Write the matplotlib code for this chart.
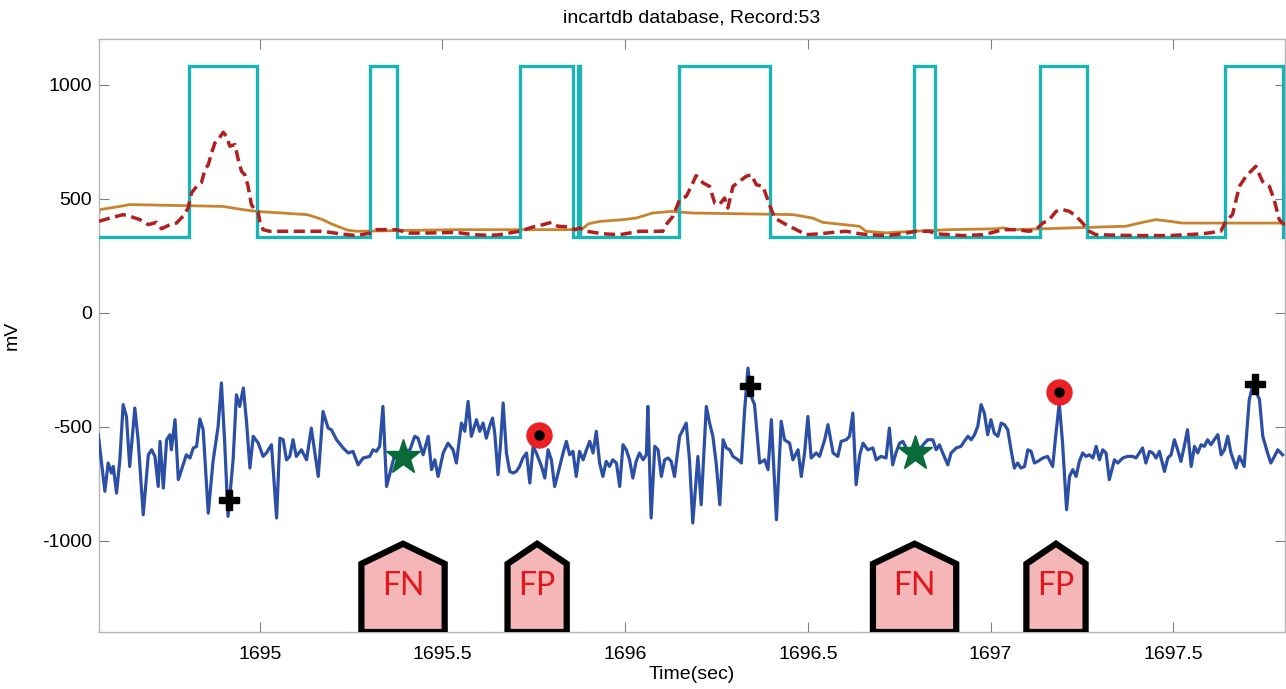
import matplotlib
matplotlib.use("Agg")
import matplotlib.pyplot as plt
from matplotlib.patches import Polygon
import numpy as np

plt.rcParams['font.family'] = ['Liberation Sans', 'DejaVu Sans']
plt.rcParams['axes.unicode_minus'] = False

# ---------------- data ----------------
# detector square wave (cyan): transition times, starting low
cyan_low, cyan_high = 330, 1080
cyan_edges = [1694.806, 1694.991, 1695.301, 1695.375, 1695.711, 1695.857,
              1695.870, 1695.876, 1696.146, 1696.395, 1696.790, 1696.848,
              1697.135, 1697.263, 1697.641, 1697.800]

# threshold (orange)
thr_t = [1694.560, 1694.562, 1694.617, 1694.644, 1694.899, 1694.953, 1694.992,
         1695.129, 1695.150, 1695.172, 1695.195, 1695.219, 1695.240, 1695.265,
         1695.529, 1695.880, 1695.900, 1695.930, 1695.994, 1696.030, 1696.075,
         1696.125, 1696.185, 1696.459, 1696.485, 1696.513, 1696.541, 1696.641,
         1696.659, 1696.714, 1696.787, 1696.887, 1697.015, 1697.033, 1697.060,
         1697.370, 1697.416, 1697.452, 1697.489, 1697.525, 1697.810]
thr_v = [437, 452, 466, 474, 466, 452, 444,
         430, 420, 408, 390, 375, 362, 357,
         364, 364, 390, 400, 408, 415, 437,
         444, 437, 430, 423, 415, 396, 379,
         357, 350, 357, 364, 368, 372, 364,
         379, 396, 408, 401, 393, 393]

# energy envelope (red dashed)
env_t = [1694.560, 1694.590, 1694.626, 1694.644, 1694.672, 1694.695, 1694.717,
         1694.731, 1694.754, 1694.772, 1694.790, 1694.804, 1694.813, 1694.827,
         1694.840, 1694.850, 1694.859, 1694.868, 1694.877, 1694.886, 1694.900,
         1694.909, 1694.918, 1694.932, 1694.941, 1694.950, 1694.959, 1694.968,
         1694.977, 1694.986, 1694.995, 1695.000, 1695.009, 1695.027, 1695.082,
         1695.173, 1695.219, 1695.264, 1695.301, 1695.319, 1695.374, 1695.410,
         1695.447, 1695.538, 1695.584, 1695.629, 1695.656, 1695.711, 1695.748,
         1695.775, 1695.798, 1695.816, 1695.848, 1695.862, 1695.875, 1695.894,
         1695.939, 1695.985, 1696.039, 1696.103, 1696.112, 1696.131, 1696.149,
         1696.167, 1696.181, 1696.194, 1696.213, 1696.231, 1696.245, 1696.258,
         1696.272, 1696.281, 1696.295, 1696.313, 1696.331, 1696.345, 1696.359,
         1696.377, 1696.395, 1696.409, 1696.441, 1696.477, 1696.495, 1696.532,
         1696.568, 1696.605, 1696.641, 1696.668, 1696.714, 1696.760, 1696.796,
         1696.833, 1696.851, 1696.887, 1696.924, 1696.978, 1697.006, 1697.033,
         1697.070, 1697.106, 1697.124, 1697.143, 1697.161, 1697.179, 1697.197,
         1697.216, 1697.234, 1697.252, 1697.270, 1697.288, 1697.398, 1697.489,
         1697.580, 1697.630, 1697.644, 1697.662, 1697.681, 1697.699, 1697.726,
         1697.744, 1697.763, 1697.776, 1697.790, 1697.799, 1697.810]
env_v = [401, 415, 430, 423, 408, 386, 396,
         368, 386, 393, 423, 459, 525, 554,
         569, 627, 649, 700, 744, 759, 791,
         773, 730, 737, 671, 620, 605, 554,
         474, 452, 444, 401, 364, 357, 357,
         357, 346, 338, 349, 364, 364, 349,
         349, 352, 342, 339, 342, 357, 376,
         386, 396, 379, 376, 364, 371, 357,
         346, 342, 357, 357, 386, 423, 496,
         510, 554, 601, 569, 554, 481, 474,
         503, 459, 554, 576, 598, 605, 561,
         554, 474, 415, 386, 357, 342, 346,
         352, 357, 346, 342, 338, 346, 357,
         357, 346, 342, 338, 342, 352, 364,
         364, 357, 364, 393, 408, 444, 452,
         444, 423, 393, 357, 342, 338, 338,
         346, 357, 401, 430, 554, 598, 642,
         576, 554, 496, 408, 393, 385]

# ECG signal (blue)
ecg_t = [1694.558, 1694.576, 1694.585, 1694.594, 1694.599, 1694.608, 1694.617,
         1694.626, 1694.635, 1694.644, 1694.658, 1694.667, 1694.681, 1694.695,
         1694.704, 1694.713, 1694.722, 1694.727, 1694.736, 1694.745, 1694.754,
         1694.758, 1694.768, 1694.777, 1694.786, 1694.799, 1694.809, 1694.818,
         1694.827, 1694.836, 1694.845, 1694.859, 1694.872, 1694.886, 1694.895,
         1694.904, 1694.913, 1694.927, 1694.936, 1694.945, 1694.955, 1694.964,
         1694.973, 1694.982, 1694.996, 1695.009, 1695.018, 1695.032, 1695.046,
         1695.055, 1695.064, 1695.073, 1695.082, 1695.091, 1695.100, 1695.114,
         1695.128, 1695.141, 1695.160, 1695.173, 1695.187, 1695.196, 1695.210,
         1695.228, 1695.242, 1695.255, 1695.269, 1695.283, 1695.301, 1695.310,
         1695.319, 1695.328, 1695.337, 1695.347, 1695.360, 1695.369, 1695.383,
         1695.397, 1695.411, 1695.424, 1695.433, 1695.447, 1695.461, 1695.470,
         1695.479, 1695.488, 1695.502, 1695.515, 1695.529, 1695.538, 1695.552,
         1695.561, 1695.570, 1695.579, 1695.593, 1695.602, 1695.611, 1695.620,
         1695.629, 1695.637, 1695.643, 1695.652, 1695.659, 1695.666, 1695.675,
         1695.684, 1695.693, 1695.702, 1695.711, 1695.720, 1695.730, 1695.739,
         1695.748, 1695.757, 1695.771, 1695.780, 1695.789, 1695.798, 1695.807,
         1695.821, 1695.830, 1695.839, 1695.848, 1695.857, 1695.866, 1695.875,
         1695.885, 1695.894, 1695.903, 1695.912, 1695.921, 1695.930, 1695.939,
         1695.948, 1695.957, 1695.966, 1695.976, 1695.985, 1695.994, 1696.003,
         1696.012, 1696.021, 1696.030, 1696.039, 1696.049, 1696.058, 1696.062,
         1696.071, 1696.081, 1696.090, 1696.099, 1696.108, 1696.117, 1696.126,
         1696.135, 1696.149, 1696.158, 1696.167, 1696.176, 1696.185, 1696.199,
         1696.208, 1696.222, 1696.231, 1696.240, 1696.249, 1696.259, 1696.268,
         1696.277, 1696.286, 1696.295, 1696.309, 1696.318, 1696.327, 1696.336,
         1696.345, 1696.354, 1696.368, 1696.382, 1696.391, 1696.400, 1696.414,
         1696.427, 1696.436, 1696.450, 1696.459, 1696.473, 1696.482, 1696.491,
         1696.500, 1696.509, 1696.523, 1696.532, 1696.546, 1696.555, 1696.569,
         1696.582, 1696.591, 1696.605, 1696.614, 1696.623, 1696.632, 1696.642,
         1696.651, 1696.664, 1696.678, 1696.687, 1696.700, 1696.714, 1696.723,
         1696.732, 1696.741, 1696.751, 1696.760, 1696.769, 1696.778, 1696.792,
         1696.805, 1696.819, 1696.828, 1696.842, 1696.851, 1696.860, 1696.869,
         1696.883, 1696.892, 1696.906, 1696.919, 1696.928, 1696.938, 1696.947,
         1696.956, 1696.965, 1696.974, 1696.983, 1696.992, 1697.001, 1697.010,
         1697.020, 1697.029, 1697.038, 1697.047, 1697.056, 1697.065, 1697.074,
         1697.083, 1697.093, 1697.102, 1697.111, 1697.120, 1697.129, 1697.143,
         1697.156, 1697.170, 1697.179, 1697.188, 1697.197, 1697.208, 1697.216,
         1697.225, 1697.234, 1697.243, 1697.252, 1697.261, 1697.270, 1697.280,
         1697.289, 1697.298, 1697.307, 1697.316, 1697.325, 1697.339, 1697.348,
         1697.362, 1697.375, 1697.389, 1697.398, 1697.407, 1697.416, 1697.425,
         1697.435, 1697.444, 1697.453, 1697.462, 1697.476, 1697.485, 1697.494,
         1697.503, 1697.512, 1697.521, 1697.530, 1697.539, 1697.549, 1697.558,
         1697.567, 1697.576, 1697.585, 1697.594, 1697.603, 1697.612, 1697.622,
         1697.631, 1697.640, 1697.649, 1697.658, 1697.672, 1697.681, 1697.694,
         1697.708, 1697.717, 1697.726, 1697.736, 1697.745, 1697.758, 1697.767,
         1697.777, 1697.786, 1697.799]
ecg_v = [-535, -783, -659, -703, -674, -791, -645,
         -403, -455, -674, -418, -557, -886, -623,
         -601, -630, -762, -564, -769, -557, -535,
         -601, -469, -732, -688, -623, -637, -593,
         -586, -466, -513, -879, -652, -498, -308,
         -572, -893, -645, -360, -411, -330, -484,
         -681, -542, -572, -630, -615, -579, -900,
         -550, -557, -645, -630, -557, -630, -601,
         -645, -506, -718, -433, -506, -513, -557,
         -593, -615, -608, -667, -637, -630, -601,
         -608, -586, -411, -762, -681, -623, -637,
         -608, -601, -542, -550, -623, -542, -688,
         -645, -718, -615, -572, -601, -659, -484,
         -520, -389, -542, -469, -520, -484, -550,
         -498, -462, -528, -710, -572, -396, -615,
         -696, -703, -696, -674, -637, -615, -747,
         -586, -615, -674, -725, -601, -645, -762,
         -674, -615, -564, -623, -608, -718, -608,
         -645, -601, -564, -615, -520, -659, -718,
         -652, -674, -645, -659, -762, -579, -601,
         -645, -725, -652, -615, -645, -623, -411,
         -900, -586, -601, -718, -645, -637, -652,
         -718, -542, -513, -484, -645, -922, -630,
         -842, -411, -484, -542, -659, -842, -557,
         -593, -601, -630, -645, -659, -425, -243,
         -367, -403, -659, -645, -688, -469, -908,
         -476, -557, -572, -645, -601, -718, -615,
         -455, -637, -615, -630, -557, -491, -615,
         -630, -564, -557, -542, -440, -754, -623,
         -572, -601, -593, -645, -630, -637, -506,
         -667, -615, -572, -564, -593, -615, -645,
         -601, -572, -557, -557, -601, -579, -615,
         -667, -615, -593, -586, -564, -542, -557,
         -535, -498, -403, -440, -535, -469, -528,
         -542, -484, -491, -513, -601, -681, -659,
         -681, -674, -601, -608, -659, -652, -637,
         -630, -674, -528, -396, -571, -864, -718,
         -688, -718, -652, -615, -630, -623, -637,
         -586, -645, -601, -615, -732, -645, -659,
         -637, -630, -630, -637, -615, -593, -659,
         -608, -615, -637, -608, -696, -637, -623,
         -557, -601, -652, -586, -513, -674, -586,
         -615, -579, -586, -557, -579, -557, -535,
         -623, -601, -542, -615, -681, -630, -674,
         -381, -323, -345, -381, -542, -615, -659,
         -630, -601, -623]

# annotations
tp_t = [1694.915, 1696.341, 1697.725]          # black crosses
tp_v = [-820, -323, -311]
fn_t = [1695.391, 1696.792]                      # green stars
fn_v = [-632, -615]
fp_t = [1695.764, 1697.186]                      # red circles
fp_v = [-535, -348]
event_t = [1695.392, 1695.759, 1696.792, 1697.179]
event_lbl = ['FN', 'FP', 'FN', 'FP']

# ---------------- plot ----------------
fig = plt.figure(figsize=(12.86, 6.89), dpi=100)
ax = fig.add_axes([0.077, 0.0827, 0.922, 0.8607])

xmin, xmax = 1694.56, 1697.805
ymin, ymax = -1400, 1200

# cyan square wave
sq_t = [xmin]
sq_v = [cyan_low]
state = cyan_low
for e in cyan_edges:
    sq_t += [e, e]
    sq_v += [state, cyan_high if state == cyan_low else cyan_low]
    state = sq_v[-1]
sq_t.append(xmax + 0.01)
sq_v.append(state)
ax.plot(sq_t, sq_v, color='#1bb3b6', lw=2.4, zorder=3, solid_joinstyle='miter')

ax.plot(thr_t, thr_v, color='#c8832f', lw=2.0, zorder=2)
ax.plot(env_t, env_v, color='#b0201f', lw=2.5, ls=(0, (3.2, 1.6)), zorder=4)

ax.plot(ecg_t, ecg_v, color='#2c4fa6', lw=2.3, zorder=3, solid_joinstyle='round')

ax.plot(tp_t, tp_v, ls='none', marker='P', ms=14, color='black',
        markeredgecolor='black', zorder=6)
ax.plot(fn_t, fn_v, ls='none', marker='*', ms=26, color='#0a6b3a',
        markeredgecolor='#0a6b3a', zorder=6)
ax.plot(fp_t, fp_v, ls='none', marker='o', ms=18, color='#ec2024',
        markeredgecolor='#ec2024', zorder=6)
ax.plot(fp_t, fp_v, ls='none', marker='o', ms=6.5, color='black', zorder=7)

half_w = {'FN': 0.114, 'FP': 0.081}
for c, lbl in zip(event_t, event_lbl):
    w = half_w[lbl]
    verts = [(c - w, ymin), (c - w, -1101), (c, -1013), (c + w, -1101), (c + w, ymin)]
    poly = Polygon(verts, closed=True, facecolor='#f4b6b6', edgecolor='black',
                   lw=4.5, joinstyle='miter', zorder=8)
    ax.add_patch(poly)
    ax.text(c, -1200, lbl, ha='center', va='center', color='#e3161c',
            fontsize=23, family=['Lato', 'DejaVu Sans'], zorder=9)

ax.set_xlim(xmin, xmax)
ax.set_ylim(ymin, ymax)
ax.set_xticks([1695, 1695.5, 1696, 1696.5, 1697, 1697.5])
ax.set_xticklabels(['1695', '1695.5', '1696', '1696.5', '1697', '1697.5'])
ax.set_yticks([-1000, -500, 0, 500, 1000])
ax.set_yticklabels(['-1000', '-500', '0', '500', '1000'])
ax.tick_params(direction='in', length=7, width=0.8, color='0.5',
               labelsize=14, top=True, right=True)
ax.tick_params(axis='y', pad=5)
ax.tick_params(axis='x', pad=10)
for s in ax.spines.values():
    s.set_color('#b5b5b5')
    s.set_linewidth(1.0)

ax.set_title('incartdb database, Record:53', fontsize=14, pad=12)
ax.set_xlabel('Time(sec)', fontsize=14, labelpad=2)
ax.set_ylabel('mV', fontsize=14)
ax.yaxis.set_label_coords(-0.066, 0.5)

fig.savefig('out.png', dpi=100)
